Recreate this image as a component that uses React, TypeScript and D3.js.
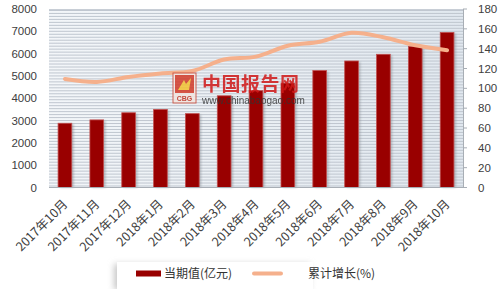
import React from "react";
import * as d3 from "d3";

const categories = ["2017年10月","2017年11月","2017年12月","2018年1月","2018年2月","2018年3月","2018年4月","2018年5月","2018年6月","2018年7月","2018年8月","2018年9月","2018年10月"];
const currentValues = [2880, 3030, 3350, 3500, 3310, 4110, 4340, 4680, 5240, 5670, 5970, 6320, 6950];
const growthValues = [109.5, 106.5, 111.5, 115, 117.5, 129, 132, 143, 147, 156, 151.5, 143.5, 138.5];
const leftTicks = [0, 1000, 2000, 3000, 4000, 5000, 6000, 7000, 8000];
const rightTicks = [0, 20, 40, 60, 80, 100, 120, 140, 160, 180];
const seriesNames = ["当期值(亿元)", "累计增长(%)"];

const W = 503, H = 289;
const M = { left: 49, right: 463, top: 9, bottom: 187.5 };
const FONT = "'Liberation Sans', 'Noto Sans CJK SC', sans-serif";
const TXT = "#404040";

export default function App() {
  const x = d3.scaleBand().domain(categories).range([M.left, M.right]).paddingInner(0.57).paddingOuter(0.285);
  const yL = d3.scaleLinear().domain([0, 8000]).range([M.bottom, M.top]);
  const yR = d3.scaleLinear().domain([0, 180]).range([M.bottom, M.top]);
  const stripes = d3.range(0, 180, 3);
  const line = d3.line<number>()
    .x((_, i) => (x(categories[i]) as number) + x.bandwidth() / 2)
    .y((d) => yR(d))
    .curve(d3.curveCatmullRom.alpha(0.5));

  return (
    <svg width={W} height={H} style={{ display: "block", position: "absolute", left: 0, top: 0 }} fontFamily={FONT}>
      <defs>
        <linearGradient id="bg" x1="0" x2="1" y1="0" y2="0">
          <stop offset="0" stopColor="#f3f6f9" />
          <stop offset="1" stopColor="#e1e8ef" />
        </linearGradient>
        <filter id="sh" x="-20%" y="-20%" width="140%" height="140%">
          <feGaussianBlur stdDeviation="1.2" />
        </filter>
        <filter id="lsh" x="-10%" y="-50%" width="120%" height="200%">
          <feGaussianBlur stdDeviation="3" />
        </filter>
      </defs>
      <rect x={0} y={0} width={W} height={H} fill="#ffffff" />
      <rect x={M.left} y={M.top} width={M.right - M.left} height={M.bottom - M.top} fill="url(#bg)" />
      {stripes.map((s) => (
        <line key={s} x1={M.left} x2={M.right} y1={yR(s) - 1.5} y2={yR(s) - 1.5} stroke="#bfc6cf" strokeWidth={1} />
      ))}
      <line x1={M.left} x2={M.right} y1={M.top + 0.5} y2={M.top + 0.5} stroke="#c8ced6" />

      {/* bars */}
      {currentValues.map((v, i) => {
        const bx = x(categories[i]) as number;
        return (
          <g key={i}>
            <rect x={bx + 2} y={yL(v) + 1} width={x.bandwidth()} height={M.bottom - yL(v) - 1} fill="#8a8f96" opacity={0.55} filter="url(#sh)" />
            <rect x={bx} y={yL(v)} width={x.bandwidth()} height={M.bottom - yL(v)} fill="#990000" stroke="#c05050" strokeWidth={0.8} />
          </g>
        );
      })}

      {/* line */}
      <path d={line(growthValues) || ""} fill="none" stroke="#f5b08c" strokeWidth={4} strokeLinecap="round" />

      {/* watermark */}
      <g opacity={0.85}>
        <rect x={173} y={73} width={23} height={30} fill="#f2e6e0" stroke="#c84a3a" strokeWidth={1} />
        <rect x={175} y={75} width={19} height={18} fill="#d23a28" />
        <path d="M178 90 L184 80 L186 84 L191 78 L189 90 Z" fill="#f2c230" />
        <text x={184.5} y={101} fontSize={7} fontWeight="bold" fill="#c03020" textAnchor="middle">CBG</text>
        <text x={202} y={91} fontSize={19} fontWeight="bold" fill="#d01818" fontFamily="'Noto Sans CJK SC', sans-serif" letterSpacing={0.5}>中国报告网</text>
        <text x={202} y={104} fontSize={10} fill="#333">www.chinabaogao.com</text>
      </g>

      {/* bottom axis line */}
      <line x1={M.left} x2={M.right} y1={M.bottom} y2={M.bottom} stroke="#a8aeb5" strokeWidth={1} />
      {/* right axis */}
      <line x1={M.right + 0.5} x2={M.right + 0.5} y1={M.top} y2={M.bottom} stroke="#a8aeb5" strokeWidth={1} />
      {rightTicks.map((t) => (
        <g key={t}>
          <line x1={M.right} x2={M.right + 4} y1={yR(t)} y2={yR(t)} stroke="#a8aeb5" />
          <text x={478} y={yR(t)} dy="0.35em" fontSize={11.5} fill={TXT}>{t}</text>
        </g>
      ))}
      {leftTicks.map((t) => (
        <text key={t} x={37} y={yL(t)} dy="0.35em" fontSize={11.5} fill={TXT} textAnchor="end">{t}</text>
      ))}
      {categories.map((c) => {
        const cx = (x(c) as number) + x.bandwidth() / 2 + 3.5;
        const cy = 205;
        return (
          <text key={c} x={cx} y={cy} fontSize={12.5} fill={TXT} textAnchor="end" transform={`rotate(-45 ${cx} ${cy})`} fontFamily="'Noto Sans CJK SC', sans-serif">{c}</text>
        );
      })}

      {/* legend */}
      <rect x={114} y={264} width={196} height={26} fill="#c8c8c8" filter="url(#lsh)" />
      <rect x={117} y={262} width={196} height={27} fill="#ffffff" />
      <rect x={136} y={270.5} width={25} height={6} fill="#990000" />
      <text x={164} y={273.5} dy="0.35em" fontSize={12} fill="#333" fontFamily="'Noto Sans CJK SC', sans-serif">{seriesNames[0]}</text>
      <line x1={254} x2={281} y1={273.5} y2={273.5} stroke="#f5b08c" strokeWidth={4} strokeLinecap="round" />
      <text x={308} y={273.5} dy="0.35em" fontSize={12} fill="#333" fontFamily="'Noto Sans CJK SC', sans-serif">{seriesNames[1]}</text>
    </svg>
  );
}
